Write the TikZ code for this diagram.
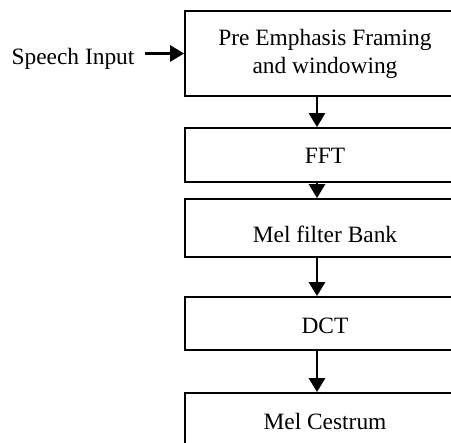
\documentclass[tikz,border=0pt]{standalone}
\usepackage{fontspec}
\setmainfont{Liberation Serif}
\usetikzlibrary{arrows.meta}
\newcommand{\bl}[2]{\raisebox{#1}[0pt][0pt]{#2}}
\begin{document}
\begin{tikzpicture}[x=0.5pt,y=-0.5pt,
  stage/.style={draw,line width=0.9pt,minimum width=140pt,inner sep=0pt,align=center,font=\fontsize{11.7}{14}\selectfont},
  flow/.style={line width=1.4pt,-{Triangle[width=8pt,length=7pt]}},
  lbl/.style={font=\fontsize{11.7}{14}\selectfont,inner sep=0pt}]
\useasboundingbox (0,0) rectangle (451,443);
\clip (0,0) rectangle (451,443);
\node[stage,minimum height=42.5pt] (b1) at (325,53.5) {Pre Emphasis Framing\\and windowing};
\node[stage,minimum height=27pt] (b2) at (325,155) {\bl{-4.5pt}{FFT}};
\node[stage,minimum height=29pt] (b3) at (325,228) {\bl{-7.5pt}{Mel filter Bank}};
\node[stage,minimum height=26.5pt] (b4) at (325,323.5) {\bl{-4.8pt}{DCT}};
\node[stage,minimum height=30pt] (b5) at (325,423) {\bl{-3.5pt}{Mel Cestrum}};
\node[lbl] (si) at (73,59) {Speech Input};
\coordinate (ax) at (317,0);
\coordinate (sistart) at ([xshift=5pt]si.east |- b1.west);
\draw[flow] (sistart) -- (b1.west);
\draw[flow] (b1.south -| ax) -- (b2.north -| ax);
\draw[flow] (b2.south -| ax) -- (b3.north -| ax);
\draw[flow] (b3.south -| ax) -- (b4.north -| ax);
\draw[flow] (b4.south -| ax) -- (b5.north -| ax);
\end{tikzpicture}
\end{document}
